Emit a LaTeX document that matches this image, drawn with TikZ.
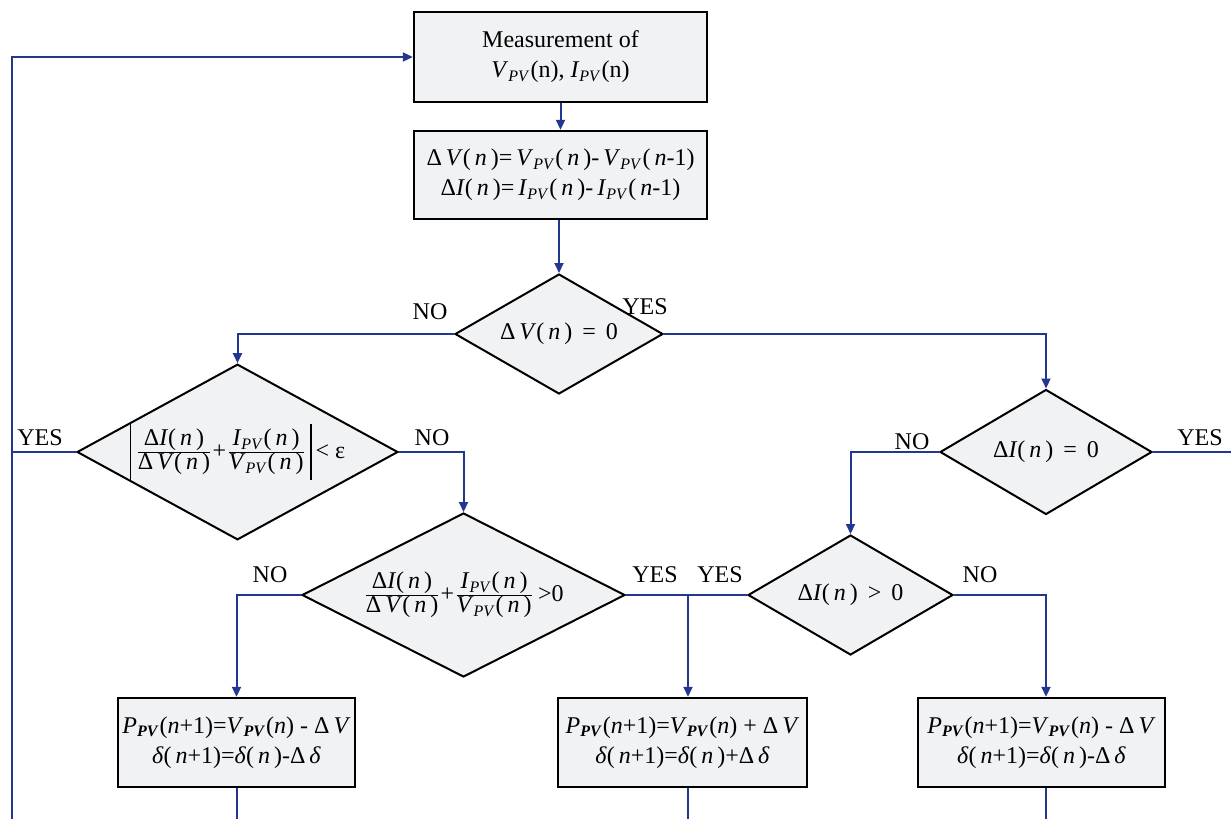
\documentclass[tikz,border=0pt]{standalone}
\usepackage{fontspec}
\setmainfont{Liberation Serif}
\usetikzlibrary{shapes.geometric,arrows.meta}

\definecolor{linkblue}{RGB}{35,55,145}
\definecolor{boxgray}{RGB}{240,242,243}

\newcommand{\pvsub}[1]{\textsubscript{\textit{#1}}}
\newcommand{\pvbsub}{\textsubscript{\textbf{\textit{PV}}}}
\newcommand{\VPV}{\textit{V}\pvsub{PV}}
\newcommand{\IPV}{\textit{I}\pvsub{PV}}
\newcommand{\nvar}{\textit{n}}
\newcommand{\absbar}{\vrule width 0.8pt height 17pt depth 11pt}

\tikzset{
    procbox/.style={draw=black, line width=1.2pt, fill=boxgray, align=center,
        inner sep=0pt, font=\fontsize{12}{15}\selectfont},
    decide/.style={diamond, aspect=1.8, draw=black, line width=1pt, fill=boxgray,
        inner sep=0pt, font=\fontsize{12}{15}\selectfont},
    conn/.style={draw=linkblue, line width=1pt, -{Triangle[length=5pt,width=4.5pt]}},
    link/.style={draw=linkblue, line width=1pt},
    lbl/.style={inner sep=0pt, font=\fontsize{12}{14}\selectfont}
}

\begin{document}
\begin{tikzpicture}[x=0.5pt, y=-0.5pt]
        \useasboundingbox (0,0) rectangle (1231,819);

        % ~~~~ Medida y diferencias ~~~~ %
        \node[procbox, minimum width=146.5pt, minimum height=45pt] (meas) at (560.5,57)
            {Measurement of\\ \VPV(n), \IPV(n)};
        \node[procbox, minimum width=146.5pt, minimum height=44pt] (delta) at (560.5,175)
            {Δ\,\textit{V}(\,\nvar\,)=\,\VPV(\,\nvar\,)-\,\VPV(\,\nvar-1)\\
             Δ\textit{I}(\,\nvar\,)=\,\IPV(\,\nvar\,)-\,\IPV(\,\nvar-1)};

        % ~~~~ Decisiones ~~~~ %
        \node[decide, minimum width=104pt, minimum height=60pt] (dv) at (559,334)
            {Δ\,\textit{V}(\,\nvar\,) \,=\, 0};
        \node[decide, minimum width=160.5pt, minimum height=87pt] (ca) at (237.5,452)
            {$\absbar\,\frac{\mbox{Δ\textit{I}(\,\nvar\,)}}{\mbox{Δ\,\textit{V}(\,\nvar\,)}}
              \mbox{+}\frac{\mbox{\IPV(\,\nvar\,)}}{\mbox{\VPV(\,\nvar\,)}}\,\absbar$\,< ε};
        \node[decide, minimum width=161.5pt, minimum height=82pt] (cp) at (463.5,595)
            {$\frac{\mbox{Δ\textit{I}(\,\nvar\,)}}{\mbox{Δ\,\textit{V}(\,\nvar\,)}}
              \mbox{+}\frac{\mbox{\IPV(\,\nvar\,)}}{\mbox{\VPV(\,\nvar\,)}}$\,>0};
        \node[decide, minimum width=106pt, minimum height=62.5pt] (dz) at (1046,452)
            {Δ\textit{I}(\,\nvar\,) \,=\, 0};
        \node[decide, minimum width=102.5pt, minimum height=60pt] (dp) at (850.5,595)
            {Δ\textit{I}(\,\nvar\,) \,>\, 0};

        % ~~~~ Ajustes ~~~~ %
        \node[procbox, minimum width=118.5pt, minimum height=44.5pt] (d1) at (236.5,742.5)
            {\textit{P}\pvbsub(\nvar+1)=\textit{V}\pvbsub(\nvar) - Δ\,\textit{V}\\
             \textit{δ}(\,\nvar+1)=\textit{δ}(\,\nvar\,)-Δ\,\textit{δ}};
        \node[procbox, minimum width=124.5pt, minimum height=44.5pt] (inc) at (682.5,742.5)
            {\textit{P}\pvbsub(\nvar+1)=\textit{V}\pvbsub(\nvar) + Δ\,\textit{V}\\
             \textit{δ}(\,\nvar+1)=\textit{δ}(\,\nvar\,)+Δ\,\textit{δ}};
        \node[procbox, minimum width=123.5pt, minimum height=44.5pt] (d2) at (1041.5,742.5)
            {\textit{P}\pvbsub(\nvar+1)=\textit{V}\pvbsub(\nvar) - Δ\,\textit{V}\\
             \textit{δ}(\,\nvar+1)=\textit{δ}(\,\nvar\,)-Δ\,\textit{δ}};

        % ~~~~ Etiquetas ~~~~ %
        \node[lbl] (noV)  at (430,312) {NO};
        \node[lbl] (yesV) at (645,307) {YES};
        \node[lbl] (yesA) at (40,438)  {YES};
        \node[lbl] (noA)  at (432,438) {NO};
        \node[lbl] (noP)  at (270,575) {NO};
        \node[lbl] (yesP) at (655,575) {YES};
        \node[lbl] (yesD) at (720,575) {YES};
        \node[lbl] (noD)  at (980,575) {NO};
        \node[lbl] (noZ)  at (912,442) {NO};
        \node[lbl] (yesZ) at (1200,438) {YES};

        % ~~~~ Conexiones ~~~~ %
        \coordinate (lpB) at (12,819);
        \coordinate (jn) at (688,595);
        \coordinate (rt) at (1231,452);

        \draw[conn] (meas) -- (delta);
        \draw[conn] (delta.south -| dv) -- (dv.north);
        \draw[conn] (dv.west) -| (ca.north);
        \draw[conn] (dv.east) -| (dz.north);
        \draw[link] (ca.west) -- (ca.west -| lpB);
        \draw[conn] (ca.east) -| (cp.north);
        \draw[conn] (cp.west) -| (d1.north);
        \draw[link] (cp.east) -- (jn);
        \draw[link] (dp.west) -- (jn);
        \draw[conn] (jn) -- (jn |- inc.north);
        \draw[conn] (dz.west) -| (dp.north);
        \draw[link] (dz.east) -- (rt);
        \draw[conn] (dp.east) -| (dz.south |- d2.north);

        \draw[link] (d1.south) -- (d1.south |- lpB);
        \draw[link] (jn |- inc.south) -- (jn |- lpB);
        \draw[link] (dz.south |- d2.south) -- (dz.south |- lpB);
        \draw[conn] (lpB) |- (meas.west);
    \end{tikzpicture}
\end{document}
